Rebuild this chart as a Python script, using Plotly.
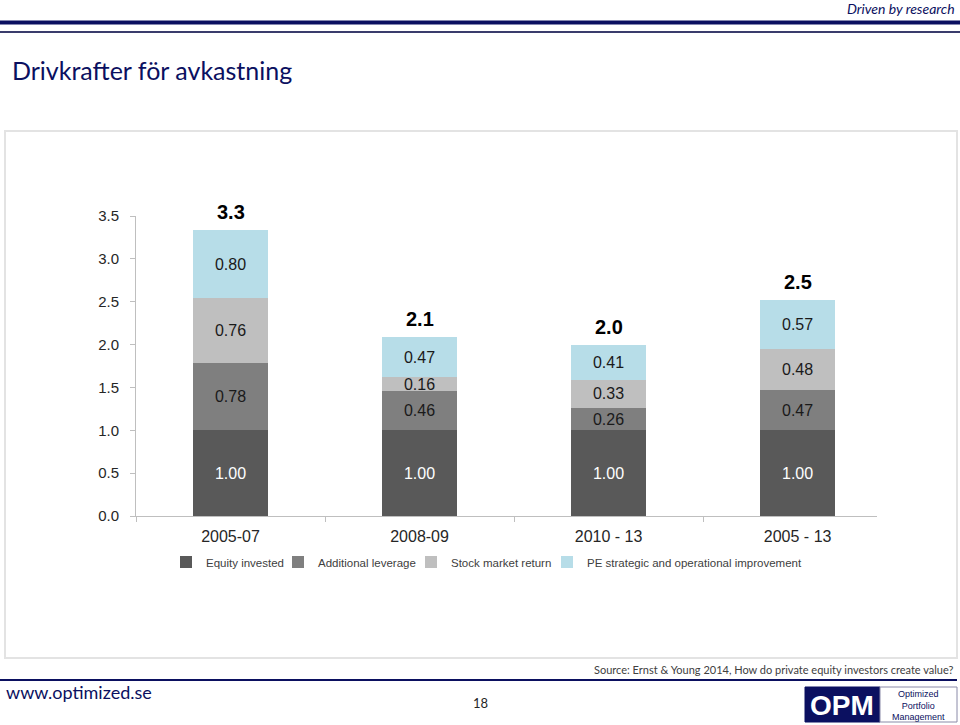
import plotly.graph_objects as go

categories = ["2005-07", "2008-09", "2010 - 13", "2005 - 13"]
equity_invested = [1.00, 1.00, 1.00, 1.00]
additional_leverage = [0.78, 0.46, 0.26, 0.47]
stock_market_return = [0.76, 0.16, 0.33, 0.48]
pe_improvement = [0.80, 0.47, 0.41, 0.57]
y_ticks = [0.0, 0.5, 1.0, 1.5, 2.0, 2.5, 3.0, 3.5]

series_names = ["Equity invested", "Additional leverage", "Stock market return",
                "PE strategic and operational improvement"]
series_values = [equity_invested, additional_leverage, stock_market_return, pe_improvement]
series_colors = ["#595959", "#7f7f7f", "#bfbfbf", "#b7dde8"]
label_colors = ["#ffffff", "#1a1a1a", "#1a1a1a", "#1a1a1a"]
legend_ids = ["legend", "legend2", "legend3", "legend4"]
legend_text_x = [206, 318, 451, 587]  # pixel where each legend entry's text starts

W, H = 960, 725
NAVY = "#0b1060"
ARIAL = "Liberation Sans, Arial, sans-serif"
CAL = "Lato, Open Sans, sans-serif"


def fx(p):
    return p / W


def fy(p):
    return 1 - p / H


fig = go.Figure()
for name, vals, color, tcol, lid in zip(series_names, series_values, series_colors,
                                        label_colors, legend_ids):
    fig.add_trace(go.Bar(
        x=categories, y=vals, name=name, legend=lid,
        marker=dict(color=color, line=dict(width=0)),
        width=0.4,
        text=[f"{v:.2f}" for v in vals],
        textposition="inside", insidetextanchor="middle", textangle=0,
        constraintext="none",
        textfont=dict(family=ARIAL, size=16, color=tcol),
        hoverinfo="skip",
    ))

totals = [sum(v) for v in zip(*series_values)]
annotations = []
for c, t in zip(categories, totals):
    annotations.append(dict(
        x=c, y=t, xref="x", yref="y", text=f"<b>{t:.1f}</b>", showarrow=False,
        yanchor="bottom", yshift=5, font=dict(family=ARIAL, size=20, color="#000000")))

# page texts
annotations += [
    dict(x=fx(957), y=fy(9), xref="paper", yref="paper", xanchor="right", yanchor="middle",
         text="<i>Driven by research</i>", showarrow=False,
         font=dict(family=CAL, size=14, color=NAVY)),
    dict(x=fx(10), y=fy(70), xref="paper", yref="paper", xanchor="left", yanchor="middle",
         text="Drivkrafter för avkastning", showarrow=False,
         font=dict(family=CAL, size=25, color=NAVY)),
    dict(x=fx(956), y=fy(669), xref="paper", yref="paper", xanchor="right", yanchor="middle",
         text="Source: Ernst & Young 2014, How do private equity investors create value?", showarrow=False,
         font=dict(family=CAL, size=11, color="#404040")),
    dict(x=fx(4), y=fy(692), xref="paper", yref="paper", xanchor="left", yanchor="middle",
         text="www.optimized.se", showarrow=False,
         font=dict(family=CAL, size=18, color=NAVY)),
    dict(x=fx(480), y=fy(703), xref="paper", yref="paper", xanchor="center", yanchor="middle",
         text="18", showarrow=False,
         font=dict(family=CAL, size=13, color="#262626")),
    dict(x=fx(842), y=fy(705), xref="paper", yref="paper", xanchor="center", yanchor="middle",
         text="<b>OPM</b>", showarrow=False,
         font=dict(family=ARIAL, size=28, color="#ffffff")),
    dict(x=fx(918), y=fy(705), xref="paper", yref="paper", xanchor="center", yanchor="middle",
         text="Optimized<br>Portfolio<br>Management", showarrow=False,
         font=dict(family=ARIAL, size=9, color=NAVY)),
]

shapes = [
    dict(type="rect", xref="paper", yref="paper", x0=fx(5), x1=fx(957), y0=fy(658), y1=fy(131),
         line=dict(color="#e3e3e3", width=2), fillcolor="rgba(0,0,0,0)", layer="below"),
    dict(type="line", xref="paper", yref="paper", x0=0, x1=1, y0=fy(22.5), y1=fy(22.5),
         line=dict(color=NAVY, width=4)),
    dict(type="line", xref="paper", yref="paper", x0=0, x1=1, y0=fy(32), y1=fy(32),
         line=dict(color="#3a3c6c", width=2)),
    dict(type="line", xref="paper", yref="paper", x0=0, x1=fx(957), y0=fy(680), y1=fy(680),
         line=dict(color=NAVY, width=2)),
    dict(type="rect", xref="paper", yref="paper", x0=fx(805), x1=fx(880), y0=fy(722), y1=fy(687),
         line=dict(color=NAVY, width=1), fillcolor=NAVY),
    dict(type="rect", xref="paper", yref="paper", x0=fx(880), x1=fx(957), y0=fy(722), y1=fy(687),
         line=dict(color="#8a8aa8", width=1), fillcolor="#ffffff"),
]

legend_style = dict(orientation="h", xanchor="left", y=fy(562), yanchor="middle",
                    traceorder="normal", font=dict(family=ARIAL, size=11.5, color="#404040"),
                    bgcolor="rgba(0,0,0,0)", borderwidth=0)
legends = {}
for lid, tx in zip(legend_ids, legend_text_x):
    legends[lid] = dict(legend_style, x=fx(tx - 40))

fig.update_layout(
    width=W, height=H,
    margin=dict(l=0, r=0, t=0, b=0, autoexpand=False),
    paper_bgcolor="#ffffff", plot_bgcolor="#ffffff",
    barmode="stack", bargap=0.6,
    uniformtext=dict(minsize=16, mode="show"),
    showlegend=True,
    xaxis=dict(domain=[fx(136), fx(877)], type="category", range=[-0.5, 3.42], automargin=False,
               tickson="boundaries", ticks="outside", ticklen=5, tickcolor="#bfbfbf",
               ticklabelstandoff=6,
               showline=True, linecolor="#bfbfbf", linewidth=1, showgrid=False,
               tickfont=dict(family=ARIAL, size=16, color="#262626"), fixedrange=True),
    yaxis=dict(domain=[fy(516), fy(216)], range=[0, 3.5], tickvals=y_ticks, tickformat=".1f",
               automargin=False, ticks="outside", ticklen=5, tickcolor="#bfbfbf",
               ticklabelstandoff=8,
               showline=True, linecolor="#bfbfbf", linewidth=1, showgrid=False, zeroline=False,
               tickfont=dict(family=ARIAL, size=15, color="#262626"), fixedrange=True),
    annotations=annotations,
    shapes=shapes,
    **legends,
)

post = ("document.documentElement.style.margin='0';document.documentElement.style.overflow='hidden';"
        "document.body.style.margin='0';document.body.style.padding='0';document.body.style.overflow='hidden';"
        "var gd=document.getElementById('{plot_id}');gd.style.position='absolute';"
        "gd.style.left='0px';gd.style.top='0px';")

fig.write_html("out.html", post_script=post, config={"displayModeBar": False})
